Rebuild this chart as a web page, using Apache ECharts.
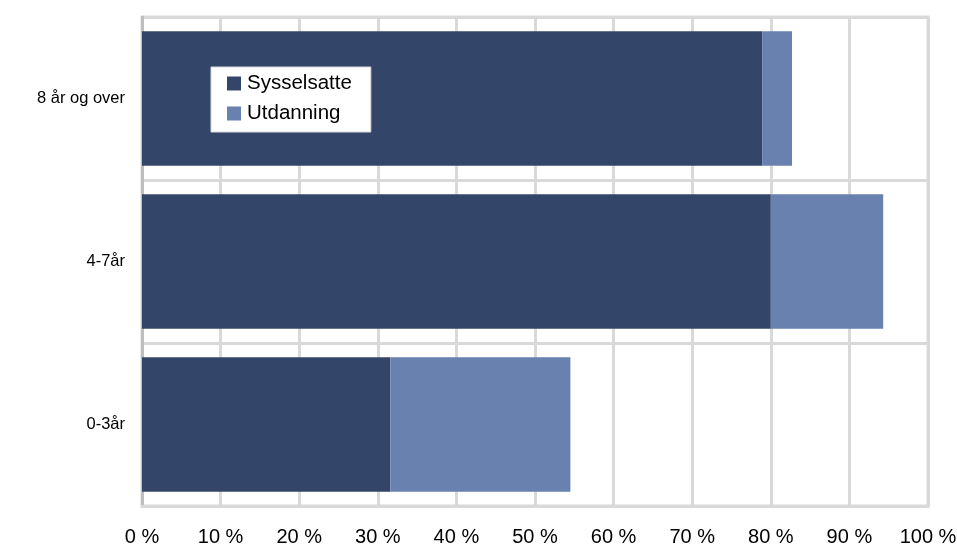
<!DOCTYPE html>
<html><head><meta charset="utf-8">
<script src="https://cdn.jsdelivr.net/npm/echarts@6/dist/echarts.min.js"></script>
<style>html,body{margin:0;padding:0;background:#fff}#c{width:957px;height:546px}</style>
</head><body><div id="c"></div>
<script>
const categories = ['0-3år', '4-7år', '8 år og over'];
const sysselsatte = [31.6, 80.0, 78.9];
const utdanning = [22.9, 14.3, 3.8];
const seriesNames = ['Sysselsatte', 'Utdanning'];

const chart = echarts.init(document.getElementById('c'));
chart.setOption({
  animation: false,
  textStyle: { fontFamily: 'Liberation Sans, Arial, sans-serif' },
  grid: { left: 142, right: 29, top: 17, bottom: 40, show: true, borderColor: '#d9d9d9', borderWidth: 3,
          outerBoundsMode: 'none', containLabel: false },
  legend: {
    data: seriesNames, orient: 'vertical', left: 211, top: 67,
    backgroundColor: '#fff', borderColor: '#d9d9d9', borderWidth: 1,
    padding: [6, 19, 8, 16], itemWidth: 14, itemHeight: 14, itemGap: 9,
    icon: 'rect',
    textStyle: { fontSize: 20.5, color: '#000', fontFamily: 'Liberation Sans, Arial, sans-serif', padding: [0, 0, 0, 1] }
  },
  xAxis: {
    type: 'value', min: 0, max: 100, interval: 10,
    axisLine: { show: true, lineStyle: { color: '#d9d9d9', width: 3 } },
    axisTick: { show: false },
    splitLine: { show: true, lineStyle: { color: '#d9d9d9', width: 3 } },
    axisLabel: { formatter: '{value} %', fontSize: 20, color: '#000', margin: 21 }
  },
  yAxis: {
    type: 'category', data: categories,
    axisLine: { show: true, lineStyle: { color: '#bfbfbf', width: 3 } },
    axisTick: { show: false },
    splitLine: { show: true, lineStyle: { color: '#d9d9d9', width: 3 } },
    axisLabel: { fontSize: 16.5, color: '#000', margin: 17 }
  },
  series: [
    { name: seriesNames[0], type: 'bar', stack: 's', data: sysselsatte, barCategoryGap: '17.5%',
      itemStyle: { color: '#33466a' } },
    { name: seriesNames[1], type: 'bar', stack: 's', data: utdanning,
      itemStyle: { color: '#6981af' } }
  ]
});
</script></body></html>
